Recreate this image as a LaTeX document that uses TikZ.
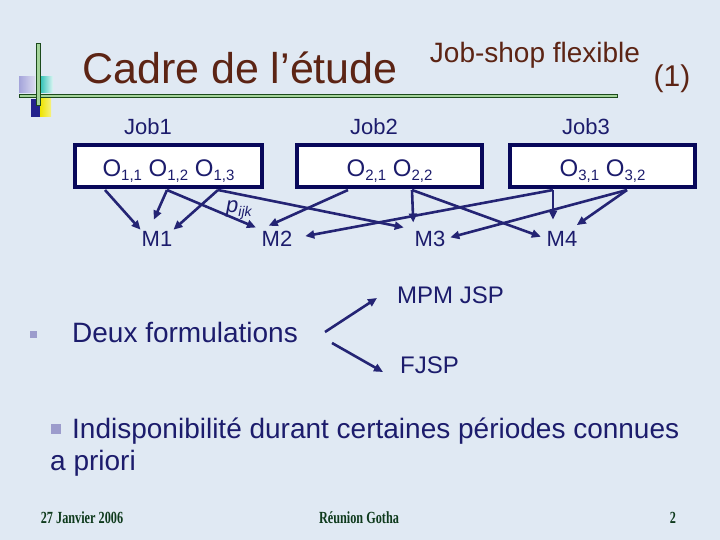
\documentclass[tikz,border=0pt]{standalone}
\usepackage{fontspec}
\setmainfont{Liberation Sans}
\newfontfamily\footfont[FakeStretch=0.72]{Liberation Serif}
\usetikzlibrary{arrows.meta,calc}
\definecolor{bg}{HTML}{E0E9F3}
\definecolor{navy}{HTML}{1C1C6C}
\definecolor{arrowc}{HTML}{242474}
\definecolor{boxc}{HTML}{08085A}
\definecolor{titlebrown}{HTML}{5C2414}
\definecolor{footg}{HTML}{0E3A1C}
\definecolor{lgreen}{HTML}{A4D49A}
\definecolor{dgreen}{HTML}{1C4A1C}
\definecolor{bulletc}{HTML}{9C9CCC}
\definecolor{lav}{HTML}{A4A4DA}
\definecolor{teal}{HTML}{1FBDB0}
\definecolor{dblue}{HTML}{22228C}
\definecolor{yell}{HTML}{EEE400}
\newcommand{\fs}[1]{\fontsize{#1}{#1}\selectfont}
\newcommand{\opr}[1]{O\raisebox{-4pt}{\fs{15}#1}}
\begin{document}
\begin{tikzpicture}[x=1pt,y=-1pt,
  txt/.style={text=navy, inner sep=0pt},
  jobbox/.style={draw=boxc, line width=3.4pt, fill=white, minimum height=42pt,
    inner sep=0pt, text=navy, font=\fs{24}, text height=22pt, text depth=0pt},
  mach/.style={text=navy, font=\fs{22}, inner sep=1pt},
  arr/.style={draw=arrowc, line width=2.6pt, -{Triangle[length=9pt,width=8pt]}},
  bul/.style={fill=bulletc, inner sep=0pt},
  foot/.style={text=footg, font=\footfont\bfseries\fs{17}, anchor=base, inner sep=0pt},
]
\useasboundingbox (0,0) rectangle (720,540);
\fill[bg] (0,0) rectangle (720,540);

% logo decoration
\shade[left color=lav, right color=lav!40] (19,77) rectangle (35,93);
\shade[left color=teal, right color=teal!15] (39,77) rectangle (53,93);
\fill[dblue] (31,99) rectangle (40,117);
\shade[left color=yell, right color=yell!50!white] (40,99) rectangle (51,117);
\draw[fill=lgreen, draw=dgreen, line width=0.8pt] (19,94) rectangle (617,97.5);
\draw[fill=lgreen, draw=dgreen, line width=0.8pt] (36.5,43) rectangle (40,105);

% titles
\node[text=titlebrown, font=\fs{43}, anchor=base, inner sep=0pt] (title) at (240,84) {Cadre de l’étude};
\node[text=titlebrown, font=\fs{28}, anchor=base, inner sep=0pt] (jsf) at (535,63) {Job-shop flexible};
\node[text=titlebrown, font=\fs{30}, anchor=base, inner sep=0pt] (one) at (672,87) {(1)};

% jobs
\node[txt, font=\fs{22}, anchor=base] (job1) at (148,135) {Job1};
\node[txt, font=\fs{22}, anchor=base] (job2) at (374,135) {Job2};
\node[txt, font=\fs{22}, anchor=base] (job3) at (586,135) {Job3};

\node[jobbox, minimum width=187pt] (box1) at (168.5,166) {\opr{1,1} \opr{1,2} \opr{1,3}};
\node[jobbox, minimum width=185pt] (box2) at (389.5,166) {\opr{2,1} \opr{2,2}};
\node[jobbox, minimum width=185pt] (box3) at (602.5,166) {\opr{3,1} \opr{3,2}};

% machines
\node[mach, anchor=base] (m1) at (157,246) {M1};
\node[mach, anchor=base] (m2) at (277,246) {M2};
\node[mach, anchor=base] (m3) at (430,246) {M3};
\node[mach, anchor=base] (m4) at (562,246) {M4};

\node[txt, font=\fs{22}\itshape, anchor=base west] (pijk) at (226,213) {p\raisebox{-4pt}{\fs{14}ijk}};

% operation sources
\coordinate (o11) at (105,190);
\coordinate (o12) at (167,190);
\coordinate (o13) at (218,190);
\coordinate (o21) at (348,190);
\coordinate (o22) at (412,190);
\coordinate (o31) at (553,190);
\coordinate (o32) at (627,190);

\draw[arr] (o11) -- (m1.north west);
\draw[arr, shorten >=11pt] (o12) -- ($(m1.north west)!0.27!(m1.north east)$);
\draw[arr] (o13) -- (m1.north east);
\draw[arr, shorten >=5pt] (o12) -- (m2.north west);
\draw[arr, shorten >=9pt] (o21) -- (m2.north west);
\draw[arr, shorten >=12pt] (o31) -- (m2.east);
\draw[arr, shorten >=10pt] (o13) -- (m3.north west);
\draw[arr, shorten >=7pt] (o22) -- (m3.north west);
\draw[arr, shorten >=4pt] (o32) -- (m3.east);
\draw[arr, shorten >=5pt] (o22) -- (m4.west);
\draw[arr, shorten >=10pt] (o31) -- (o31 |- m4.north);
\draw[arr, shorten >=8pt] (o32) -- ($(m4.north)!0.5!(m4.north east)$);

% formulations
\node[bul, minimum size=7pt] (b1) at (33.5,334.5) {};
\node[txt, font=\fs{28}, anchor=base west] (deux) at (72,342) {Deux formulations};
\node[txt, font=\fs{24}, anchor=base west] (mpm) at (397,303) {MPM JSP};
\node[txt, font=\fs{24}, anchor=base west] (fjsp) at (400,373) {FJSP};
\coordinate (fa) at (325,332);
\coordinate (ta) at (377,298);
\coordinate (fb) at (332,343);
\coordinate (tb) at (383,372);
\draw[arr] (fa) -- (ta);
\draw[arr] (fb) -- (tb);

% second bullet
\node[bul, minimum size=10pt] (b2) at (55.5,428.5) {};
\node[txt, font=\fs{28}, anchor=base west] (indis) at (72,438) {Indisponibilité durant certaines périodes connues};
\node[txt, font=\fs{28}, anchor=base west] (apriori) at (50,470) {a priori};

% footer
\node[foot] (date) at (82,523) {27 Janvier 2006};
\node[foot] (reu) at (359,523) {Réunion Gotha};
\node[foot] (pg) at (673,523) {2};
\end{tikzpicture}
\end{document}
